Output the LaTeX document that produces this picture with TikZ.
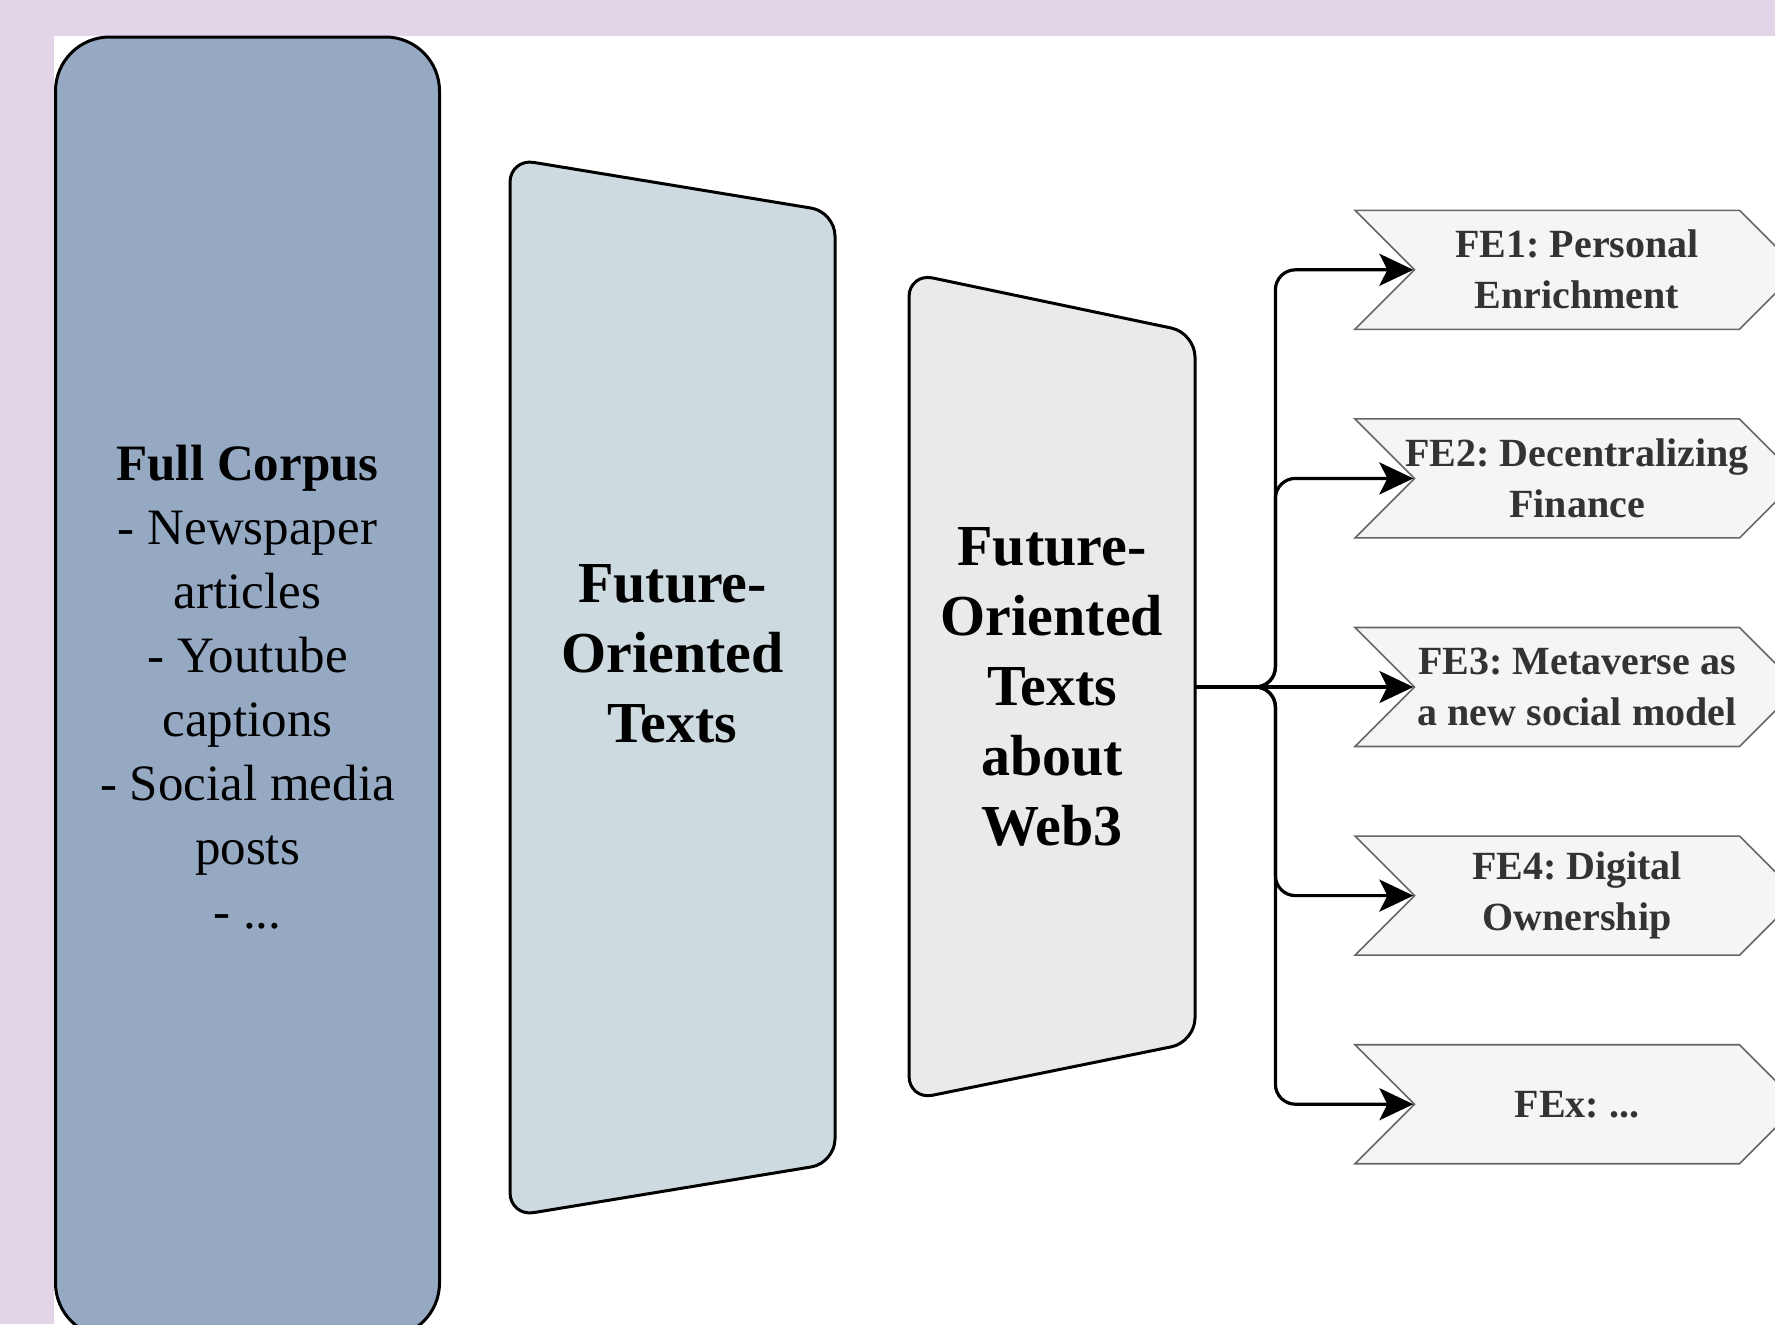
\documentclass[tikz,border=0pt]{standalone}
\usepackage{fontspec}
\setmainfont{Liberation Serif}
\usepackage{xcolor}
\usepackage{tikz}
\usetikzlibrary{shapes.symbols,arrows.meta,positioning}

\definecolor{lavender}{HTML}{E1D5E7}
\definecolor{corpusblue}{HTML}{95A9C3}
\definecolor{futureblue}{HTML}{CDDBE0}
\definecolor{webgray}{HTML}{EAEAEA}
\definecolor{chevfill}{HTML}{F5F5F5}
\definecolor{chevline}{HTML}{666666}
\definecolor{chevtext}{HTML}{333333}

\frenchspacing

\begin{document}
\begin{tikzpicture}[x=0.5pt, y=-0.5pt, node distance=44pt]
    % Stili
    \tikzstyle{corpus}=[rectangle, rounded corners=27pt, minimum width=192pt, minimum height=650pt, draw=black, line width=1.5pt, fill=corpusblue, align=center, font=\fontsize{25.5pt}{32pt}\selectfont]
    \tikzstyle{trap}=[draw=black, line width=1.5pt, rounded corners=12pt]
    \tikzstyle{traptext}=[align=center, inner sep=0pt, font=\fontsize{29pt}{35pt}\selectfont\bfseries]
    \tikzstyle{theme}=[signal, signal from=west, signal to=east, signal pointer angle=90, minimum width=222pt, minimum height=59.5pt, inner sep=0pt, draw=chevline, line width=0.8pt, fill=chevfill, text=chevtext, align=center, font=\fontsize{20pt}{25.5pt}\selectfont\bfseries]
    \tikzstyle{arrow}=[-{Stealth[length=17pt, width=16pt, inset=4pt]}, line width=1.6pt, rounded corners=10pt]

    % Sfondo
    \useasboundingbox (0,0) rectangle (1775,1324);
    \clip (0,0) rectangle (1775,1324);
    \fill[lavender] (0,0) rectangle (1775,1324);
    \fill[white] (54,36) rectangle (1775,1324);

    % Corpus
    \node (corpus) [corpus] at (247.5,687) {\textbf{Full Corpus}\\- Newspaper\\articles\\- Youtube\\captions\\- Social media\\posts\\- ...};

    % Trapezi
    \draw[trap, fill=futureblue] (510,158.5) -- (835,212) -- (835,1163) -- (510,1216.5) -- cycle;
    \node (future) [traptext] at (672.5,654) {Future-\\Oriented\\Texts};
    \draw[trap, fill=webgray] (909,273) -- (1195,333) -- (1195,1042) -- (909,1100) -- cycle;
    \node (web3) [traptext, minimum width=143pt] at (1052,687) {Future-\\Oriented\\Texts\\about\\Web3};

    % Temi
    \node (fe3) [theme] at (1577,687) {FE3: Metaverse as\\a new social model};
    \node (fe2) [theme, above=of fe3] {\makebox[0pt]{FE2: Decentralizing}\\Finance};
    \node (fe1) [theme, above=of fe2] {FE1: Personal\\Enrichment};
    \node (fe4) [theme, below=of fe3] {FE4: Digital\\Ownership};
    \node (fex) [theme, below=of fe4] {FEx: ...};

    % Collegamenti
    \draw [arrow] (web3.east) -- ++(80,0) |- (fe1.west);
    \draw [arrow] (web3.east) -- ++(80,0) |- (fe2.west);
    \draw [arrow] (web3.east) -- (fe3.west);
    \draw [arrow] (web3.east) -- ++(80,0) |- (fe4.west);
    \draw [arrow] (web3.east) -- ++(80,0) |- (fex.west);

\end{tikzpicture}
\end{document}
